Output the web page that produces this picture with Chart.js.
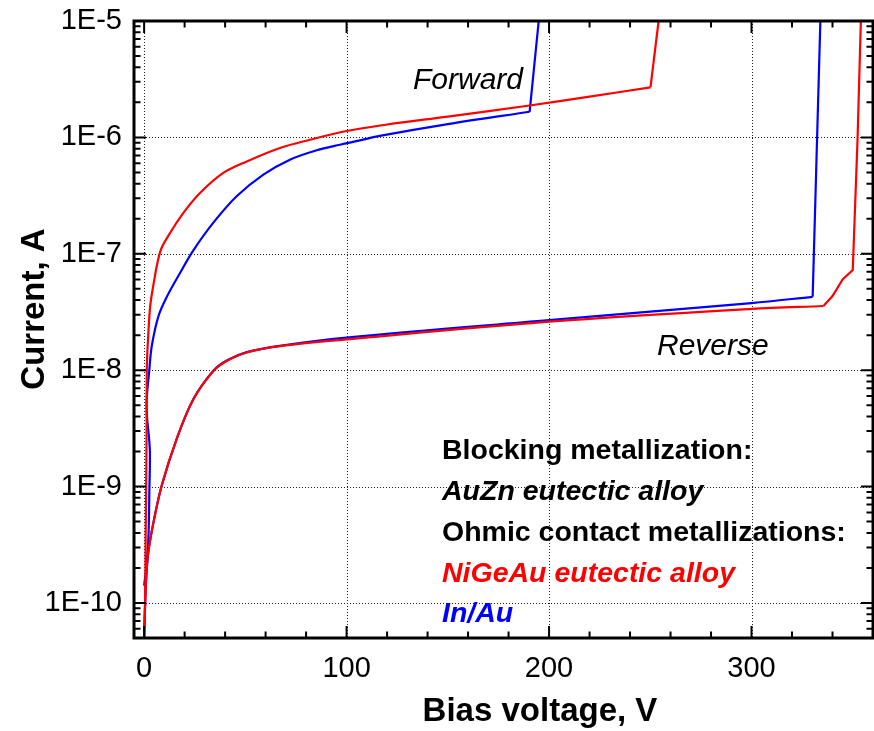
<!DOCTYPE html>
<html>
<head>
<meta charset="utf-8">
<script src="https://cdn.jsdelivr.net/npm/chart.js@4.4.1/dist/chart.umd.min.js"></script>
<style>
  html, body { margin: 0; padding: 0; background: #fff; }
  canvas { display: block; }
</style>
</head>
<body>
<canvas id="c" width="874" height="731"></canvas>
<script>
// ---- Data ----
const xTickValues = [0, 100, 200, 300];
const yTickValues = [1e-10, 1e-9, 1e-8, 1e-7, 1e-6, 1e-5];

// NiGeAu (red), forward bias
const redForwardV = [0.0, 0.5, 0.75, 1.0, 1.2, 1.35, 2.1, 3.0, 4.2, 8.0, 12.8, 19.4, 27.6, 39.1, 50.7, 67.1, 81.9, 100, 120, 150, 190.4, 220, 250.1, 254.1];
const redForwardI = [4.5e-11, 1.02e-10, 3.55e-10, 1.0e-9, 3.16e-9, 1.07e-8, 2.09e-8, 3.55e-8, 4.94e-8, 1.05e-7, 1.51e-7, 2.25e-7, 3.33e-7, 4.95e-7, 6.22e-7, 8.11e-7, 9.55e-7, 1.135e-6, 1.29e-6, 1.51e-6, 1.88e-6, 2.24e-6, 2.69e-6, 1.0e-5];
const redForwardKnee = 22;   // index where the curve turns sharply upward

// In/Au (blue), forward bias
const blueForwardV = [0.0, 1.0, 2.1, 2.6, 2.8, 1.2, 2.6, 3.8, 7.1, 11.5, 17.8, 24.0, 34.2, 45.7, 58.9, 72.0, 85.2, 96.7, 106.6, 116.4, 150, 190.4, 194.9];
const blueForwardI = [1.41e-10, 1.95e-10, 3.55e-10, 9.55e-10, 2.09e-9, 4.9e-9, 1.02e-8, 1.62e-8, 2.92e-8, 4.37e-8, 6.87e-8, 1.05e-7, 1.85e-7, 3.12e-7, 4.79e-7, 6.44e-7, 7.75e-7, 8.65e-7, 9.42e-7, 1.03e-6, 1.30e-6, 1.66e-6, 1.0e-5];
const blueForwardKnee = 21;

// NiGeAu (red), reverse bias
const redReverseV = [0.0, 0.5, 1.0, 2.1, 4.6, 8.7, 16.1, 24.3, 34.2, 40.8, 50.7, 67.1, 100, 200, 300, 335.5, 340, 345, 350, 352.4, 354];
const redReverseI = [4.9e-11, 1.02e-10, 1.62e-10, 2.75e-10, 4.9e-10, 1.02e-9, 2.57e-9, 5.62e-9, 9.84e-9, 1.2e-8, 1.42e-8, 1.61e-8, 1.84e-8, 2.61e-8, 3.36e-8, 3.56e-8, 4.33e-8, 6.03e-8, 7.24e-8, 1.0e-6, 1.0e-5];
const redReverseKnee = 15;

// In/Au (blue), reverse bias
const blueReverseV = [0.0, 0.5, 1.0, 2.1, 4.6, 8.7, 16.1, 24.3, 34.2, 40.8, 50.7, 67.1, 100, 200, 300, 330.2, 334];
const blueReverseI = [4.9e-11, 1.02e-10, 1.62e-10, 2.75e-10, 4.9e-10, 1.02e-9, 2.57e-9, 5.62e-9, 9.9e-9, 1.21e-8, 1.43e-8, 1.62e-8, 1.905e-8, 2.69e-8, 3.77e-8, 4.27e-8, 1.0e-5];
const blueReverseKnee = 15;

// ---- Chart ----
const FONT = "'Liberation Sans', Arial, sans-serif";
const RED = '#ff0000', BLUE = '#0000ff';
const pts = (V, I) => V.map((v, i) => ({ x: v, y: I[i] }));

function ds(V, I, color, tension) {
  return { data: pts(V, I), borderColor: color, backgroundColor: color, borderWidth: 2.2,
           pointRadius: 0, tension: tension, fill: false, showLine: true };
}
// smooth part up to the knee, straight segments after it
function curve(V, I, knee, color) {
  return [
    ds(V.slice(0, knee + 1), I.slice(0, knee + 1), color, 0.35),
    ds(V.slice(knee), I.slice(knee), color, 0)
  ];
}

const decor = {
  id: 'decor',
  beforeDatasetsDraw(chart) {
    const { ctx, chartArea: a, scales: { x, y } } = chart;
    ctx.save();
    ctx.strokeStyle = '#222';
    ctx.lineWidth = 1;
    ctx.setLineDash([1, 2]);
    xTickValues.forEach(v => {
      const px = Math.round(x.getPixelForValue(v)) + 0.5;
      ctx.beginPath(); ctx.moveTo(px, a.top); ctx.lineTo(px, a.bottom); ctx.stroke();
    });
    yTickValues.forEach(v => {
      const py = Math.round(y.getPixelForValue(v)) + 0.5;
      ctx.beginPath(); ctx.moveTo(a.left, py); ctx.lineTo(a.right, py); ctx.stroke();
    });
    ctx.restore();
  },
  afterDatasetsDraw(chart) {
    const { ctx, chartArea: a, scales: { x, y } } = chart;
    ctx.save();
    ctx.strokeStyle = '#000';
    ctx.lineWidth = 2;
    const MAJ = 12, MIN = 6.5;
    for (let v = 0; v <= 360; v += 20) {
      const px = x.getPixelForValue(v);
      const len = (v % 100 === 0) ? MAJ : MIN;
      ctx.beginPath();
      ctx.moveTo(px, a.bottom); ctx.lineTo(px, a.bottom - len);
      ctx.moveTo(px, a.top); ctx.lineTo(px, a.top + len);
      ctx.stroke();
    }
    for (let d = -11; d <= -6; d++) {
      for (let m = 1; m <= 9; m++) {
        const v = m * Math.pow(10, d);
        if (v < y.min * 0.999 || v > y.max * 1.001) continue;
        const py = y.getPixelForValue(v);
        const len = (m === 1) ? MAJ : MIN;
        ctx.beginPath();
        ctx.moveTo(a.left, py); ctx.lineTo(a.left + len, py);
        ctx.moveTo(a.right, py); ctx.lineTo(a.right - len, py);
        ctx.stroke();
      }
    }
    ctx.lineWidth = 3;
    ctx.strokeRect(a.left, a.top, a.right - a.left, a.bottom - a.top);
    ctx.restore();
  },
  afterDraw(chart) {
    const { ctx } = chart;
    ctx.save();
    ctx.textAlign = 'left';
    ctx.textBaseline = 'alphabetic';
    ctx.fillStyle = '#000';
    ctx.font = 'italic 30px ' + FONT;
    ctx.fillText('Forward', 413, 89);
    ctx.fillText('Reverse', 657, 355);

    ctx.font = 'bold 28.5px ' + FONT;
    ctx.fillText('Blocking metallization:', 442, 459);
    ctx.font = 'italic bold 28.5px ' + FONT;
    ctx.fillText('AuZn eutectic alloy', 442, 500);
    ctx.font = 'bold 28.5px ' + FONT;
    ctx.fillText('Ohmic contact metallizations:', 442, 541);
    ctx.font = 'italic bold 28.5px ' + FONT;
    ctx.fillStyle = RED;
    ctx.fillText('NiGeAu eutectic alloy', 442, 582);
    ctx.fillStyle = BLUE;
    ctx.fillText('In/Au', 442, 622);

    ctx.fillStyle = '#000';
    ctx.font = 'bold 33px ' + FONT;
    ctx.textAlign = 'center';
    ctx.fillText('Bias voltage, V', 540, 721);
    ctx.translate(44, 309);
    ctx.rotate(-Math.PI / 2);
    ctx.fillText('Current, A', 0, 0);
    ctx.restore();
  }
};

new Chart(document.getElementById('c'), {
  type: 'line',
  data: {
    datasets: [
      ...curve(redReverseV, redReverseI, redReverseKnee, RED),
      ...curve(redForwardV, redForwardI, redForwardKnee, RED),
      ...curve(blueReverseV, blueReverseI, blueReverseKnee, BLUE),
      ...curve(blueForwardV, blueForwardI, blueForwardKnee, BLUE)
    ]
  },
  options: {
    responsive: false,
    animation: false,
    layout: { padding: { top: 21, right: 1, left: 0, bottom: 0 } },
    plugins: { legend: { display: false }, tooltip: { enabled: false } },
    scales: {
      x: {
        type: 'linear',
        min: -5, max: 360,
        grid: { display: false, drawTicks: false },
        border: { display: false },
        afterBuildTicks: s => { s.ticks = xTickValues.map(v => ({ value: v })); },
        afterFit: s => { s.height = 93; s.paddingLeft = 0; s.paddingRight = 0; s.paddingTop = 0; s.paddingBottom = 0; },
        ticks: {
          color: '#000', padding: 14, maxRotation: 0, autoSkip: false,
          font: { family: FONT, size: 29 },
          callback: v => String(v)
        }
      },
      y: {
        type: 'logarithmic',
        min: 5e-11, max: 1e-5,
        grid: { display: false, drawTicks: false },
        border: { display: false },
        afterBuildTicks: s => { s.ticks = yTickValues.map(v => ({ value: v })); },
        afterFit: s => { s.width = 134; s.paddingTop = 0; s.paddingBottom = 0; s.paddingLeft = 0; s.paddingRight = 0; },
        ticks: {
          color: '#000', padding: 12, autoSkip: false,
          font: { family: FONT, size: 29 },
          callback: v => '1E' + Math.round(Math.log10(v))
        }
      }
    }
  },
  plugins: [decor]
});
</script>
</body>
</html>
